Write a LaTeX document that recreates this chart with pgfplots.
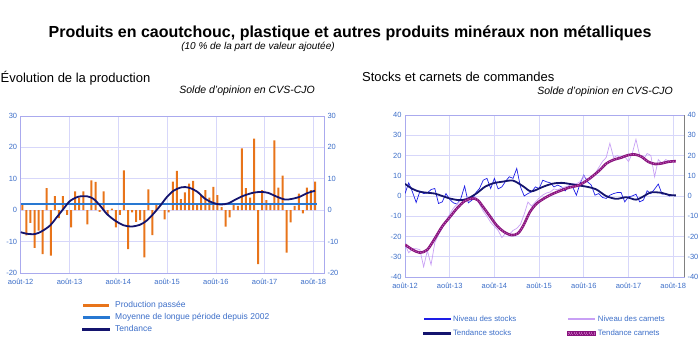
\documentclass[border=0pt]{standalone}
\usepackage{pgfplots}
\pgfplotsset{compat=1.18}
\usepackage{fontspec}
\setmainfont{Liberation Sans}
\definecolor{tickblue}{RGB}{60,110,200}
\definecolor{framecol}{RGB}{170,170,238}
\definecolor{gridcol}{RGB}{215,215,250}
\definecolor{barorange}{RGB}{232,116,26}
\definecolor{meanblue}{RGB}{40,120,210}
\definecolor{navyc}{RGB}{20,20,110}
\definecolor{stockblue}{RGB}{30,30,230}
\definecolor{carnlight}{RGB}{200,160,245}
\definecolor{carnpurple}{RGB}{135,20,125}
\definecolor{carnpink}{RGB}{190,90,180}

\pgfplotsset{
  mybase/.style={scale only axis, anchor=south west,
    axis line style={framecol, line width=0.8pt},
    grid=major, grid style={gridcol, line width=0.7pt},
    major tick length=0pt,
    tick label style={font=\fontsize{7.5}{8}\selectfont, text=tickblue},
    xticklabel style={yshift=-2.5pt},
    /pgf/number format/assume math mode=true,
    xtick={0,12,24,36,48,60,72},
    xticklabels={août-12,août-13,août-14,août-15,août-16,août-17,août-18},
    legend cell align=left,
  },
  rightlabels/.style={scale only axis, anchor=south west,
    axis y line*=right, axis x line=none,
    y axis line style={framecol, line width=0.8pt},
    major tick length=0pt, xmin=0, xmax=1,
    tick label style={font=\fontsize{7.5}{8}\selectfont, text=tickblue},
    /pgf/number format/assume math mode=true,
  }
}

\pgfplotstableread{
x y
0.4 2
1.4 -8
2.4 -4
3.4 -12
4.4 -6.5
5.4 -14
6.4 7
7.4 -14.5
8.4 4.5
9.4 -2.5
10.4 4.5
11.4 -1.5
12.4 -5.5
13.4 6
14.4 4
15.4 6
16.4 -4.5
17.4 9.5
18.4 9
19.4 -0.5
20.4 6
21.4 -1.5
22.4 0.5
23.4 -5.5
24.4 -1.5
25.4 12.7
26.4 -12.4
27.4 -0.7
28.4 -3.7
29.4 -3.2
30.4 -15
31.4 6.6
32.4 -7.9
33.4 1.6
34.4 0
35.4 -2.9
36.4 -0.7
37.4 9.1
38.4 12.5
39.4 3.5
40.4 5.7
41.4 8.5
42.4 9.3
43.4 1.6
44.4 4.9
45.4 6.4
46.4 4
47.4 7.4
48.4 4.8
49.4 1
50.4 -5.2
51.4 -2.3
52.4 1.9
53.4 1.4
54.4 19.7
55.4 7
56.4 4
57.4 22.8
58.4 -17.2
59.4 6.4
60.4 3.2
61.4 1.9
62.4 22.2
63.4 7.2
64.4 11
65.4 -13.5
66.4 -3.9
67.4 1.4
68.4 5.3
69.4 -1
70.4 7.2
71.4 6.4
72.4 9.1
}\prodtable

\pgfplotstableread{
x y
0 -7.0
1.5 -7.5
3.5 -7.6
5.2 -6.7
7.2 -4.9
8.9 -2.2
10.5 0.4
12.1 2.9
14.2 4.3
16.4 4.4
17.9 3.6
19.5 1.5
21.2 -1.2
23.2 -3.3
25.3 -4.8
27.3 -5.2
29.4 -4.6
31.0 -3.3
32.6 -1.2
34.3 1.4
35.9 4.1
37.6 6.2
39.6 7.3
41.3 7.2
43.3 6.0
45.4 3.6
47.4 2.3
49.2 1.8
51.1 2.2
52.7 3.3
54.8 4.6
57.3 5.6
59.3 5.8
60.9 5.5
63.0 4.3
65.0 3.4
66.7 3.6
68.7 4.3
70.4 5.4
72.4 6.2
}\prodtrend

\pgfplotstableread{
x y
0 1.2
1 6.5
2 2
3 -3.2
4 2.4
5 1.2
6 1.5
7 3.2
8 3.7
9 -3.7
10 -2.9
11 1.2
12 -1.7
13 -3.4
14 -4
15 -1.2
16 4.9
17 -3.4
18 -2
19 1.6
20 3.7
21 7.8
22 8.7
23 3.7
24 8.7
25 3.5
26 4.5
27 7.3
28 9.5
29 8.7
30 13.6
31 4.5
32 0
33 1.2
34 2.1
35 4.5
36 3.7
37 7.8
38 7
39 6.5
40 4.5
41 5.4
42 4.5
43 2.5
44 4.9
45 4.5
46 0.4
47 6.2
48 10.3
49 7
50 5.4
51 0.4
52 1.2
53 -0.7
54 -1.2
55 0.4
56 1.2
57 1.7
58 1.7
59 -2.9
60 -0.4
61 0
62 0.9
63 -2.9
64 -2
65 2.6
66 1.2
67 3.4
68 5.9
69 0.9
70 1.2
71 0
72 0.4
}\stocks

\pgfplotstableread{
x y
0 -24
1 -28
2 -26
3 -26
4 -26.5
5 -35
6 -27
7 -34
8 -23
9 -19
10 -16
11 -12
12 -9
13 -6
14 -4
15 -2
16 -1.5
17 -0.5
18 -1
19 -0.5
20 -4
21 -7.5
22 -10
23 -13
24 -15
25 -17
26 -20.5
27 -18.5
28 -19
29 -17
30 -16
31 -14
32 -9
33 -3
34 -5
35 -3
36 -1
37 0.5
38 1.5
39 2
40 3.5
41 3
42 4
43 4.5
44 5
45 6
46 6
47 7
48 10
49 8
50 8.5
51 11
52 14
53 17
54 19
55 26
56 19
57 20
58 18.5
59 19.5
60 17
61 21
62 28
63 20
64 18
65 21
66 20
67 9.5
68 18
69 16
70 18
71 17
72 17
}\carnets

\pgfplotstableread{
x y
0 6
2 3.5
4 2.1
6 1.6
8 1.2
10 0
12 -1.2
14.3 -2
16.5 -1.6
19.2 1.3
21.5 4.6
23.7 6.3
26.3 7.1
29 7.6
31.7 4.8
33.9 2.3
37 4.5
39.4 6
42.1 6.5
46 5.4
49 4.5
51.3 3.3
54 0
56.7 -1.4
59.4 -0.6
62 -1.8
64.2 0
66 1.8
68.7 1.6
71 0.5
72.7 0.3
}\stockstrend

\pgfplotstableread{
x y
0 -24
2 -26.5
4 -28
6 -26.5
8 -21
10 -15
12 -10.5
14 -6
16 -2.5
18 -1.2
19.5 -2
21 -5.5
22.8 -10
24.6 -14.5
26.4 -17.5
28.5 -19.3
30.3 -18.5
31.8 -14.5
33.5 -8
35.3 -3.8
37.5 -1
39.8 1.2
42 2.8
44.3 4.3
46.5 5.2
48.7 7.5
50.5 10
52.3 12.8
54.1 16.1
55.9 17.8
58.1 19
59.9 20.2
61.7 20.5
63.5 19.4
65.3 16.9
67.1 15.8
68.9 16.1
70.7 16.9
72.7 17.2
}\carnetstrend

\begin{document}
\begin{tikzpicture}[x=1pt,y=1pt]
\useasboundingbox (0,0) rectangle (700,353);
\node[font=\bfseries\fontsize{16}{18}\selectfont] at (350,320) {Produits en caoutchouc, plastique et autres produits minéraux non métalliques};
\node[font=\itshape\fontsize{10}{12}\selectfont] at (258,306) {(10~\% de la part de valeur ajoutée)};
\node[anchor=west,font=\fontsize{13}{15}\selectfont,inner sep=0pt] at (0.5,275) {Évolution de la production};
\node[anchor=east,font=\itshape\fontsize{10.5}{12}\selectfont,inner sep=0pt] at (315,262) {Solde d'opinion en CVS-CJO};
\node[anchor=west,font=\fontsize{13}{15}\selectfont,inner sep=0pt] at (362,276) {Stocks et carnets de commandes};
\node[anchor=east,font=\itshape\fontsize{10.5}{12}\selectfont,inner sep=0pt] at (673,261) {Solde d'opinion en CVS-CJO};

% left chart
\begin{axis}[mybase, at={(20.7pt,80pt)}, width=303.3pt, height=157pt,
  xmin=0, xmax=74.6, ymin=-20, ymax=30, ytick={-20,-10,0,10,20,30},
  legend style={at={(0.193,-0.155)}, anchor=north west, draw=none, fill=none,
    font=\fontsize{8.5}{10}\selectfont, row sep=0.3pt}]
\addplot[ybar, bar width=2pt, fill=barorange, draw=none,
  legend image code/.code={\fill[barorange] (0pt,-1.8pt) rectangle (26pt,1.8pt); \path (29pt,0pt);}]
  table[x=x,y=y] {\prodtable};
\addlegendentry{\textcolor{tickblue}{Production passée}}
\addplot[meanblue, line width=1.6pt,
  legend image code/.code={\fill[meanblue] (0pt,-0.8pt) rectangle (26pt,0.8pt); \path (29pt,0pt);}]
  coordinates {(0,2) (72.8,2)};
\addlegendentry{\textcolor{tickblue}{Moyenne de longue période depuis 2002}}
\addplot[navyc, line width=1.8pt, smooth,
  legend image code/.code={\fill[navyc] (0pt,-0.9pt) rectangle (26pt,0.9pt); \path (29pt,0pt);}]
  table[x=x,y=y] {\prodtrend};
\addlegendentry{\textcolor{tickblue}{Tendance}}
\end{axis}
\begin{axis}[rightlabels, at={(20.7pt,80pt)}, width=303.3pt, height=157pt,
  ymin=-20, ymax=30, ytick={-20,-10,0,10,20,30}]
\end{axis}

% right chart
\begin{axis}[mybase, at={(405pt,76pt)}, width=279pt, height=162pt,
  xmin=0, xmax=74.9, ymin=-40, ymax=40, ytick={-40,-30,...,40},
  legend columns=2,
  legend style={at={(0.054,-0.213)}, anchor=north west, draw=none, fill=none,
    font=\fontsize{7.8}{9}\selectfont, row sep=3pt,
    /tikz/every even column/.append style={column sep=49pt}}]
\addplot[stockblue, line width=0.7pt,
  legend image code/.code={\fill[stockblue] (0pt,-0.45pt) rectangle (26pt,0.45pt);}]
  table[x=x,y=y] {\stocks};
\addlegendentry{\textcolor{tickblue}{Niveau des stocks}}
\addplot[carnlight, line width=0.7pt,
  legend image code/.code={\fill[carnlight] (0pt,-0.45pt) rectangle (26pt,0.45pt);}]
  table[x=x,y=y] {\carnets};
\addlegendentry{\textcolor{tickblue}{Niveau des carnets}}
\addplot[navyc, line width=1.8pt, smooth,
  legend image code/.code={\fill[navyc] (0pt,-0.9pt) rectangle (26pt,0.9pt);}]
  table[x=x,y=y] {\stockstrend};
\addlegendentry{\textcolor{tickblue}{Tendance stocks}}
\addplot[carnpurple, line width=2.6pt, smooth,
  postaction={draw, carnpink, line width=1pt, dash pattern=on 1pt off 1.5pt},
  legend image code/.code={\fill[carnpurple] (0pt,-1.3pt) rectangle (26pt,1.3pt); \draw[carnpink, line width=1pt, dash pattern=on 1pt off 1.5pt] (0pt,0pt) -- (26pt,0pt);}]
  table[x=x,y=y] {\carnetstrend};
\addlegendentry{\textcolor{tickblue}{Tendance carnets}}
\end{axis}
\begin{axis}[rightlabels, at={(405pt,76pt)}, width=279pt, height=162pt,
  ymin=-40, ymax=40, ytick={-40,-30,...,40}, y axis line style={gray, line width=0.8pt}]
\end{axis}
\end{tikzpicture}
\end{document}
